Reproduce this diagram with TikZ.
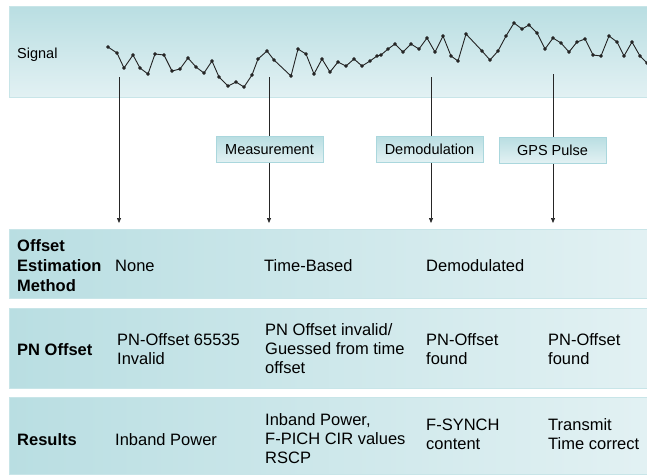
\documentclass[tikz,border=0pt]{standalone}
\usepackage{fontspec}
\setmainfont{Liberation Sans}
\usepackage{tikz}
\usetikzlibrary{positioning,arrows.meta,calc}
\definecolor{tealdk}{RGB}{185,222,226}
\definecolor{teallt}{RGB}{226,241,243}
\definecolor{tealedge}{RGB}{200,229,232}
\definecolor{boxedge}{RGB}{170,215,221}
\definecolor{trace}{RGB}{35,35,35}
\newcommand\cellfont{\fontsize{16.5}{19}\selectfont}
\newcommand\tagfont{\fontsize{14.5}{17}\selectfont}
\tikzset{
  band/.style    = {draw=tealedge, line width=0.8pt, inner sep=0pt,
                    outer sep=0pt, minimum width=638pt},
  sigband/.style = {band, top color=tealdk, bottom color=teallt},
  rowband/.style = {band, left color=tealdk, right color=teallt},
  tag/.style     = {draw=boxedge, line width=0.8pt, top color=tealdk,
                    bottom color=teallt, font=\tagfont, inner sep=0pt,
                    minimum width=107pt, minimum height=26pt},
  ar/.style      = {-{Triangle[length=5pt,width=4pt]}, line width=0.7pt,
                    color=black!85, shorten >=6pt},
  cell/.style    = {anchor=west, align=left, inner sep=0pt, font=\cellfont},
  head/.style    = {cell, font=\cellfont\bfseries},
  sig/.style     = {color=trace, line width=0.9pt, line join=round},
}

\begin{document}
\begin{tikzpicture}[x=1pt, y=-1pt]
\useasboundingbox (0,0) rectangle (647,475);
% bands
\node[sigband, minimum height=91pt] (sigrow) at (328,51.5) {};
\node[rowband, minimum height=69pt] (est) at (328,263.5) {};
\node[rowband, minimum height=80pt] (pn)  at (328,348) {};
\node[rowband, minimum height=77pt] (res) at (328,435.5) {};
% signal
\node[anchor=west, font=\tagfont, inner sep=0pt] (siglbl) at (17,55) {Signal};
\draw[sig] plot[mark=*, mark size=1.4pt, mark options={fill=trace}] coordinates {
  (108,47) (117,53) (124,68) (133,55) (140,68) (148,74) (155,54) (164,55)
  (172,71) (180,69) (188,58) (196,67) (204,73) (212,61) (219,77) (228,86)
  (236,82) (244,87) (252,75) (258,59) (267,51) (274,60) (291,76) (298,49)
  (306,54) (314,74) (322,59) (330,72) (338,62) (346,66) (354,59) (362,66)
  (370,61) (377,56) (381,55) (388,49) (395,44) (403,52) (411,44) (419,49)
  (427,38) (435,52) (443,36) (451,56) (458,61) (466,34) (482,51) (490,60)
  (498,51) (506,36) (514,23) (522,29) (529,25) (537,33) (545,49) (553,38)
  (561,43) (569,52) (577,42) (585,39) (593,55) (601,56) (609,36) (617,42)
  (624,56) (632,42) (640,56) (647,63)};
% events
\coordinate (t1) at (119,77);
\coordinate (t2) at (269,77);
\coordinate (t3) at (431,77);
\coordinate (t4) at (553,74);
\foreach \t in {t1,t2,t3,t4}
  \draw[ar] (\t) -- (\t |- est.north);
\node[tag] (meas)  at (269.5,149.5) {Measurement};
\node[tag] (demod) at (429.5,149) {Demodulation};
\node[tag] (gps)   at (552.5,150) {GPS Pulse};
% row 1
\node[head, font=\fontsize{16.5}{20}\selectfont\bfseries] (hdEst) at (17,266)
     {Offset\\Estimation\\Method};
\node[cell] (none)  at (115,266) {None};
\node[cell] (timeB) at (264,266) {Time-Based};
\node[cell] (dmd)   at (426,266) {Demodulated};
% row 2
\node[head] (hdPn) at (17,350) {PN Offset};
\node[cell] (pnA) at (117,349) {PN-Offset 65535\\Invalid};
\node[cell] (pnB) at (265,349) {PN Offset invalid/\\Guessed from time\\offset};
\node[cell] (pnC) at (426,349) {PN-Offset\\found};
\node[cell] (pnD) at (548,349) {PN-Offset\\found};
% row 3
\node[head] (hdRes) at (17,440) {Results};
\node[cell] (resA) at (115,440) {Inband Power};
\node[cell] (resB) at (265,439) {Inband Power,\\F-PICH CIR values\\RSCP};
\node[cell] (resC) at (426,434) {F-SYNCH\\content};
\node[cell] (resD) at (548,434) {Transmit\\Time correct};
\end{tikzpicture}
\end{document}
